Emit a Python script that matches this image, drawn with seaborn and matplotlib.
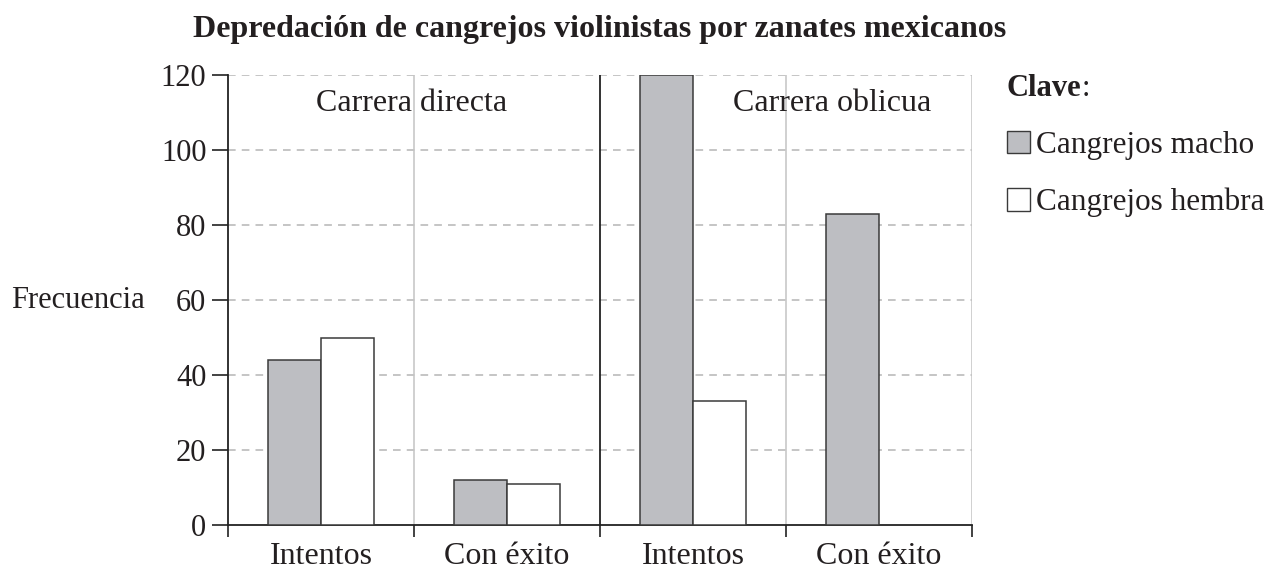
import pandas as pd
import matplotlib.pyplot as plt
import seaborn as sns
from matplotlib.patches import Patch

# Datos
categorias = ["Intentos_d", "Con éxito_d", "Intentos_o", "Con éxito_o"]
etiquetas_x = ["Intentos", "Con éxito", "Intentos", "Con éxito"]
macho = [44, 12, 120, 83]
hembra = [50, 11, 33, 0]
series = ["Cangrejos macho", "Cangrejos hembra"]
colores = ["#bdbec2", "#ffffff"]

def main():
    df = pd.DataFrame({
        "categoria": categorias * 2,
        "sexo": [series[0]] * 4 + [series[1]] * 4,
        "frecuencia": macho + hembra,
    })

    sns.set_theme(style="white")
    plt.rcParams["font.family"] = ["Liberation Serif", "DejaVu Serif"]

    fig = plt.figure(figsize=(12.85, 5.83), dpi=100)
    ax = fig.add_axes([228 / 1285, 58 / 583, 744 / 1285, 450 / 583])

    sns.barplot(
        data=df, x="categoria", y="frecuencia", hue="sexo",
        order=categorias, hue_order=series, palette=colores,
        width=0.575, gap=0, edgecolor="#3a3a3a", linewidth=1.1,
        saturation=1, legend=False, ax=ax, zorder=3,
    )

    ax.set_xlim(-0.5, 3.5)
    ax.set_ylim(0, 120)
    ax.set_yticks(range(0, 121, 20))

    # rejilla horizontal discontinua
    for yv in range(20, 121, 20):
        ax.axhline(yv, color="#b5b5b5", lw=1.1, ls=(0, (5, 4)), zorder=1)
    # divisiones verticales
    for xv in [0.5, 2.5, 3.5]:
        ax.axvline(xv, color="#c4c4c4", lw=1.1, zorder=1)
    ax.axvline(1.5, color="#222222", lw=1.3, zorder=2)

    for s in ["top", "right"]:
        ax.spines[s].set_visible(False)
    for s in ["left", "bottom"]:
        ax.spines[s].set_color("#222222")
        ax.spines[s].set_linewidth(1.3)

    ax.set_xticks(range(4))
    ax.set_xticklabels(etiquetas_x, fontsize=23, color="#231f20")
    ax.tick_params(axis="x", which="major", length=0, pad=12)
    ax.set_xticks([-0.5, 0.5, 1.5, 2.5, 3.5], minor=True)
    ax.tick_params(axis="x", which="minor", direction="out", length=8.5,
                   width=1.2, color="#222222", bottom=True)
    ax.tick_params(axis="y", direction="out", length=11.5, width=1.2,
                   color="#222222", left=True, pad=4, labelsize=22,
                   labelcolor="#231f20")

    ax.set_xlabel("")
    ax.set_ylabel("Frecuencia", rotation=0, fontsize=22, color="#231f20",
                  ha="right", va="center")
    ax.yaxis.set_label_coords(-0.112, 0.5)

    ax.text(0.487, 112.5, "Carrera directa", ha="center", va="center",
            fontsize=23, color="#231f20", zorder=4)
    ax.text(2.75, 112.5, "Carrera oblicua", ha="center", va="center",
            fontsize=23, color="#231f20", zorder=4)

    fig.text(600 / 1285, 1 - 30 / 583,
             "Depredación de cangrejos violinistas por zanates mexicanos",
             ha="center", va="center", fontsize=23, fontweight="bold",
             color="#231f20")

    # leyenda "Clave"
    t = fig.text(1007 / 1285, 1 - 88 / 583, "Clave", fontsize=22,
                 fontweight="bold", ha="left", va="center", color="#231f20")
    fig.canvas.draw()
    bb = t.get_window_extent()
    fig.text(bb.x1 / 1285, 1 - 88 / 583, ":", fontsize=22, ha="left",
             va="center", color="#231f20")

    handles = [Patch(facecolor=c, edgecolor="#3a3a3a", linewidth=1.0)
               for c in colores]
    fig.legend(handles, series, loc="upper left",
               bbox_to_anchor=(994 / 1285, 1 - 118 / 583), frameon=False,
               fontsize=22.5, handlelength=0.75, handleheight=0.75,
               handletextpad=0.2, labelspacing=0.9, borderaxespad=0,
               labelcolor="#231f20")

    fig.savefig("out.png", dpi=100)

if __name__ == "__main__":
    main()
